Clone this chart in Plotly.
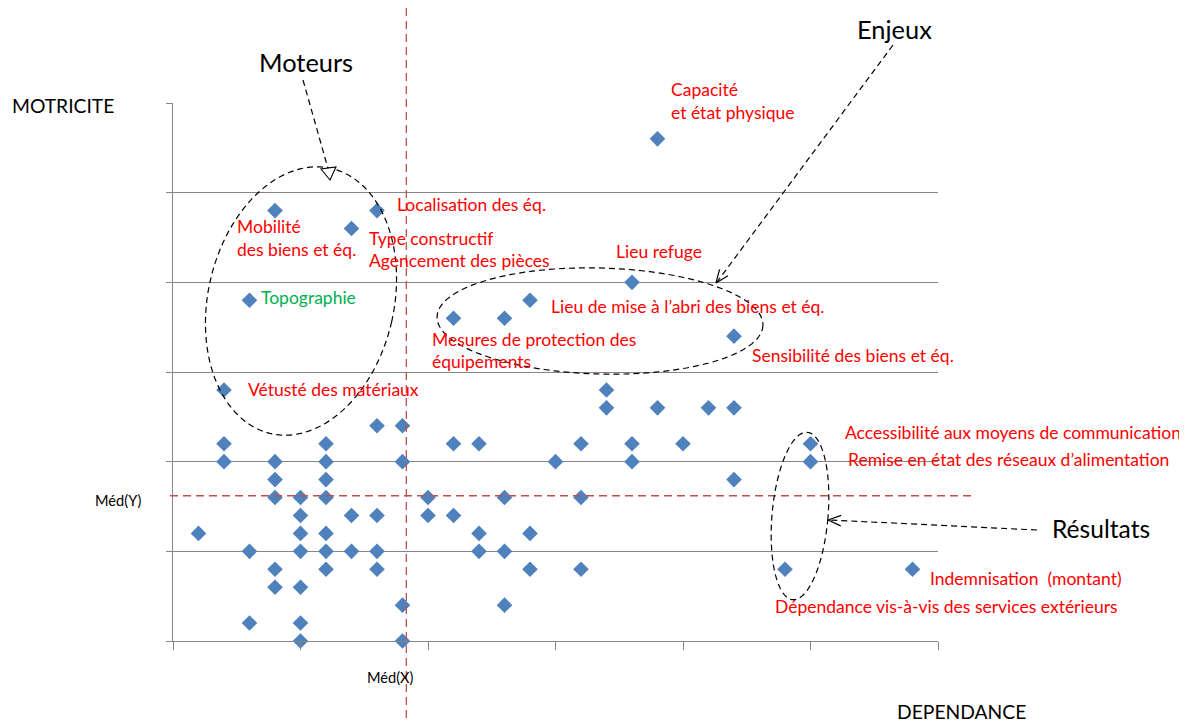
import numpy as np
import plotly.graph_objects as go

# ---------------- data (dependance = x, motricite = y) ----------------
dependance = [2, 8, 9, 2, 6, 2, 4, 6, 9, 4, 6, 4, 5, 6, 5, 7, 8, 1, 5, 6,
              3, 5, 6, 7, 8, 4, 6, 8, 4, 5, 9, 3, 5, 5, 9,
              10, 10, 11, 11, 12, 16, 18, 20, 15, 18, 22, 13, 16, 12, 14, 12, 13, 14, 16, 13,
              17, 17, 19, 21, 22,
              4, 8, 7, 3, 19, 18, 14, 11, 13, 22, 25, 25, 24, 29]
motricite = [14, 12, 12, 11, 11, 10, 10, 10, 10, 9, 9, 8, 8, 8, 7, 7, 7, 6, 6, 6,
             5, 5, 5, 5, 5, 4, 4, 4, 3, 3, 2, 1, 1, 0, 0,
             8, 7, 7, 11, 11, 11, 11, 11, 10, 10, 9, 8, 8, 6, 6, 5, 5, 4, 4, 2,
             14, 13, 13, 13, 13,
             24, 24, 23, 19, 28, 20, 19, 18, 18, 17, 11, 10, 4, 4]

MED_X = 9.15
MED_Y = 8.1

# label texts
label_texts = ["Capacité", "et état physique", "Localisation des éq.", "Mobilité",
               "des biens et éq.", "Type constructif", "Agencement des pièces",
               "Lieu refuge", "Topographie", "Lieu de mise à l’abri des biens et éq.",
               "Mesures de protection des", "équipements", "Sensibilité des biens et éq.",
               "Vétusté des matériaux", "Accessibilité aux moyens de communication",
               "Remise en état des réseaux d’alimentation", "Indemnisation  (montant)",
               "Dépendance vis-à-vis des services extérieurs"]
label_left = [669, 669, 395, 235, 235, 367, 367, 614, 259, 549, 430, 430, 750, 246, 843, 846, 928, 773]
label_cy = [90, 112, 204, 226, 249, 238, 260, 252, 297, 306, 339, 361, 355, 389, 432, 459, 578, 606]
label_col = ["red"] * 8 + ["green"] + ["red"] * 9

# ---------------- layout geometry (page pixels) ----------------
OFF = 8                      # default body margin of the html page
W, H = 1187 - OFF, 722 - OFF
L, R, T, B = 173, 938, 103, 641


def px(xp):
    return (xp - L) / (R - L)


def py(yp):
    return (B - yp) / (B - T)


FONT = "Lato"
RED = "#FF0000"
GREEN = "#00B050"
GRID = "#868686"

fig = go.Figure()
fig.add_trace(go.Scatter(
    x=dependance, y=motricite, mode="markers",
    marker=dict(symbol="diamond", size=12, color="#4F81BD", line=dict(width=0)),
    cliponaxis=False, showlegend=False, hoverinfo="x+y"))

shapes = []
# medians
shapes.append(dict(type="line", xref="x", yref="paper", x0=MED_X, x1=MED_X,
                   y0=py(8), y1=py(722), line=dict(color="#C0504D", width=1.3, dash="8px,5px")))
shapes.append(dict(type="line", xref="paper", yref="y", x0=px(170), x1=px(972),
                   y0=MED_Y, y1=MED_Y, line=dict(color="#C0504D", width=1.3, dash="8px,5px")))


def ellipse_path(cx, cy, a, b, rot_deg):
    t = np.linspace(0, 2 * np.pi, 120)
    th = np.deg2rad(rot_deg)
    ex = a * np.cos(t)
    ey = b * np.sin(t)
    xs = cx + ex * np.cos(th) - ey * np.sin(th)
    ys = cy + ex * np.sin(th) + ey * np.cos(th)
    pts = [f"{px(x):.5f},{py(y):.5f}" for x, y in zip(xs, ys)]
    return "M " + " L ".join(pts) + " Z"


blk = dict(color="black", width=1.2, dash="6px,4px")
# Moteurs ellipse (major axis nearly vertical, tilted)
shapes.append(dict(type="path", xref="paper", yref="paper",
                   path=ellipse_path(301, 301, 93, 136, 12.8), line=blk))
# Enjeux ellipse
shapes.append(dict(type="path", xref="paper", yref="paper",
                   path=ellipse_path(600, 321, 163, 53, 1.5), line=blk))
# Resultats ellipse
shapes.append(dict(type="path", xref="paper", yref="paper",
                   path=ellipse_path(800, 516, 28, 84, 5), line=blk))


def seg(x0, y0, x1, y1, dash=None):
    ln = dict(color="black", width=1.2)
    if dash:
        ln["dash"] = dash
    return dict(type="line", xref="paper", yref="paper",
                x0=px(x0), y0=py(y0), x1=px(x1), y1=py(y1), line=ln)


def vhead(x0, y0, x1, y1, length=14, ang=22):
    d = np.array([x0 - x1, y0 - y1], float)
    d /= np.linalg.norm(d)
    out = []
    for s in (1, -1):
        a = np.deg2rad(ang * s)
        v = np.array([d[0] * np.cos(a) - d[1] * np.sin(a), d[0] * np.sin(a) + d[1] * np.cos(a)])
        out.append(seg(x1, y1, x1 + v[0] * length, y1 + v[1] * length))
    return out


# Moteurs arrow
shapes.append(seg(303, 80, 329, 172, "6px,4px"))
tri = [(330, 180), (321, 169), (336, 167)]
shapes.append(dict(type="path", xref="paper", yref="paper",
                   path="M " + " L ".join(f"{px(a):.5f},{py(b):.5f}" for a, b in tri) + " Z",
                   line=dict(color="black", width=1.1), fillcolor="white"))
# Enjeux arrow
shapes.append(seg(893, 45, 717, 282, "6px,4px"))
shapes += vhead(893, 45, 716, 283)
# Resultats arrow
shapes.append(seg(1037, 530, 830, 520, "6px,4px"))
shapes += vhead(1037, 530, 828, 520)

annotations = []
for txt, lx, cy, c in zip(label_texts, label_left, label_cy, label_col):
    annotations.append(dict(text=txt, x=px(lx), y=py(cy), xref="paper", yref="paper",
                            xanchor="left", yanchor="middle", showarrow=False,
                            font=dict(family=FONT, size=17.5, color=RED if c == "red" else GREEN)))

big = [("Moteurs", 257, 62, 25.4), ("Enjeux", 855, 29, 25.4), ("Résultats", 1050, 528, 24.6),
       ("MOTRICITE", 10, 105, 19.3), ("DEPENDANCE", 895, 711, 19.3),
       ("Méd(Y)", 93, 500, 14.6)]
for txt, lx, cy, sz in big:
    annotations.append(dict(text=txt, x=px(lx), y=py(cy), xref="paper", yref="paper",
                            xanchor="left", yanchor="middle", showarrow=False,
                            font=dict(family=FONT, size=sz, color="black")))
annotations.append(dict(text="Méd(X)", x=px(390), y=py(677), xref="paper", yref="paper",
                        xanchor="center", yanchor="middle", showarrow=False,
                        font=dict(family=FONT, size=14.6, color="black")))

fig.update_layout(
    width=W, height=H,
    margin=dict(l=L - OFF, r=(W + OFF) - R, t=T - OFF, b=(H + OFF) - B, pad=0),
    paper_bgcolor="white", plot_bgcolor="white",
    shapes=shapes, annotations=annotations,
    xaxis=dict(range=[0, 30], tick0=0, dtick=5, ticks="outside", ticklen=8,
               tickcolor=GRID, tickwidth=1, showticklabels=False, showgrid=False,
               zeroline=False, showline=True, linecolor=GRID, linewidth=1),
    yaxis=dict(range=[0, 30], tick0=0, dtick=5, ticks="outside", ticklen=6,
               tickcolor=GRID, tickwidth=1, showticklabels=False, showgrid=True,
               gridcolor=GRID, gridwidth=1, zeroline=False, showline=True,
               linecolor=GRID, linewidth=1),
    showlegend=False,
)

fig.write_html("out.html")
